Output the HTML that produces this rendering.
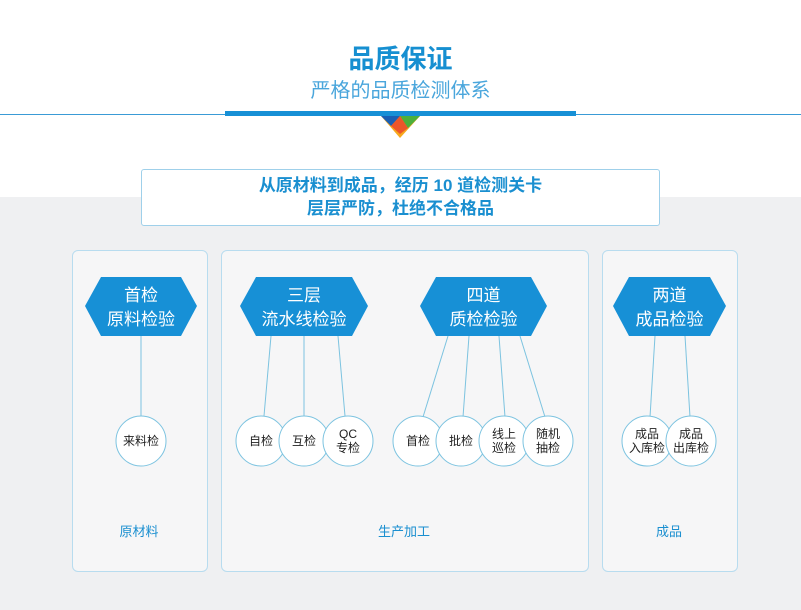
<!DOCTYPE html>
<html><head><meta charset="utf-8"><style>
body{margin:0;width:801px;height:610px;position:relative;background:#fff;font-family:"Liberation Sans","Noto Sans CJK SC",sans-serif;overflow:hidden}
.a{position:absolute}
.t{position:absolute;text-align:center;white-space:nowrap}
</style></head><body>
<div class="a" style="left:0;top:197px;width:801px;height:413px;background:#eff0f2"></div>
<div class="t" style="left:0;width:801px;top:42px;font-size:26px;font-weight:bold;color:#168fd1;line-height:34px">品质保证</div>
<div class="t" style="left:0;width:801px;top:77px;font-size:20px;color:#4aa6dc;line-height:28px">严格的品质检测体系</div>
<div class="a" style="left:0;top:114px;width:801px;height:1px;background:#3a9bd6"></div>
<div class="a" style="left:225px;top:111px;width:351px;height:5px;background:#1790d6"></div>
<svg class="a" style="left:0;top:0" width="801" height="610">
<polygon points="381,116 420,116 400,138" fill="#f7a81c"/>
<polygon points="381,116 400,116 391,126" fill="#1a5fb4"/>
<polygon points="400,116 420,116 408,128" fill="#4caf3c"/>
<polygon points="391,126 400,116 408,128 400,134" fill="#e8402e" opacity="0.8"/>
<g fill="#1790d6">
<polygon points="85,306 101,277 181,277 197,306 181,336 101,336"/>
<polygon points="240,306 256,277 352,277 368,306 352,336 256,336"/>
<polygon points="420,306 436,277 531,277 547,306 531,336 436,336"/>
<polygon points="613,306 629,277 710,277 726,306 710,336 629,336"/>
</g>
<g stroke="#7cc3e0" stroke-width="1">
<line x1="141" y1="336" x2="141" y2="416"/>
<line x1="271" y1="336" x2="264" y2="416"/><line x1="304" y1="336" x2="304" y2="416"/><line x1="338" y1="336" x2="345" y2="416"/>
<line x1="448" y1="336" x2="423" y2="417"/><line x1="469" y1="336" x2="463" y2="417"/><line x1="499" y1="336" x2="505" y2="417"/><line x1="520" y1="336" x2="545" y2="417"/>
<line x1="655" y1="336" x2="650" y2="417"/><line x1="685" y1="336" x2="690" y2="417"/>
</g>
</svg>
<div class="a" style="left:141px;top:169px;width:517px;height:55px;border:1px solid #9fd0ea;border-radius:3px;background:#fff"></div>
<div class="t" style="left:141px;width:519px;top:174px;font-size:17px;font-weight:bold;color:#1a8fd0;line-height:23px">从原材料到成品，经历 10 道检测关卡<br>层层严防，杜绝不合格品</div>
<div class="a" style="left:72px;top:250px;width:134px;height:320px;border:1px solid #b8dcef;border-radius:6px;background:#f6f6f7"></div>
<div class="a" style="left:221px;top:250px;width:366px;height:320px;border:1px solid #b8dcef;border-radius:6px;background:#f6f6f7"></div>
<div class="a" style="left:602px;top:250px;width:134px;height:320px;border:1px solid #b8dcef;border-radius:6px;background:#f6f6f7"></div>
<svg class="a" style="left:0;top:0" width="801" height="610">
<g fill="#1790d6">
<polygon points="85,306 101,277 181,277 197,306 181,336 101,336"/>
<polygon points="240,306 256,277 352,277 368,306 352,336 256,336"/>
<polygon points="420,306 436,277 531,277 547,306 531,336 436,336"/>
<polygon points="613,306 629,277 710,277 726,306 710,336 629,336"/>
</g>
<g stroke="#7cc3e0" stroke-width="1">
<line x1="141" y1="336" x2="141" y2="416"/>
<line x1="271" y1="336" x2="264" y2="416"/><line x1="304" y1="336" x2="304" y2="416"/><line x1="338" y1="336" x2="345" y2="416"/>
<line x1="448" y1="336" x2="423" y2="417"/><line x1="469" y1="336" x2="463" y2="417"/><line x1="499" y1="336" x2="505" y2="417"/><line x1="520" y1="336" x2="545" y2="417"/>
<line x1="655" y1="336" x2="650" y2="417"/><line x1="685" y1="336" x2="690" y2="417"/>
</g>
<g fill="#fff" stroke="#7cc3e0" stroke-width="1">
<circle cx="141" cy="441" r="25"/>
<circle cx="261" cy="441" r="25"/><circle cx="304" cy="441" r="25"/><circle cx="348" cy="441" r="25"/>
<circle cx="418" cy="441" r="25"/><circle cx="461" cy="441" r="25"/><circle cx="504" cy="441" r="25"/><circle cx="548" cy="441" r="25"/>
<circle cx="647" cy="441" r="25"/><circle cx="691" cy="441" r="25"/>
</g>
</svg>
<div class="t" style="left:85px;width:112px;top:284px;font-size:17px;color:#fff;line-height:24px">首检<br>原料检验</div>
<div class="t" style="left:240px;width:128px;top:284px;font-size:17px;color:#fff;line-height:24px">三层<br>流水线检验</div>
<div class="t" style="left:420px;width:127px;top:284px;font-size:17px;color:#fff;line-height:24px">四道<br>质检检验</div>
<div class="t" style="left:613px;width:113px;top:284px;font-size:17px;color:#fff;line-height:24px">两道<br>成品检验</div>
<div style="font-size:12px;color:#222;line-height:14px">
<div class="t" style="left:111px;width:60px;top:434px">来料检</div>
<div class="t" style="left:231px;width:60px;top:434px">自检</div>
<div class="t" style="left:274px;width:60px;top:434px">互检</div>
<div class="t" style="left:318px;width:60px;top:427px">QC<br>专检</div>
<div class="t" style="left:388px;width:60px;top:434px">首检</div>
<div class="t" style="left:431px;width:60px;top:434px">批检</div>
<div class="t" style="left:474px;width:60px;top:427px">线上<br>巡检</div>
<div class="t" style="left:518px;width:60px;top:427px">随机<br>抽检</div>
<div class="t" style="left:617px;width:60px;top:427px">成品<br>入库检</div>
<div class="t" style="left:661px;width:60px;top:427px">成品<br>出库检</div>
</div>
<div style="font-size:13px;color:#1a8fd0;line-height:16px">
<div class="t" style="left:99px;width:80px;top:524px">原材料</div>
<div class="t" style="left:364px;width:80px;top:524px">生产加工</div>
<div class="t" style="left:629px;width:80px;top:524px">成品</div>
</div>
</body></html>
